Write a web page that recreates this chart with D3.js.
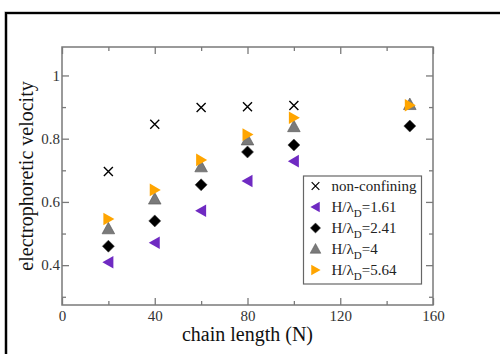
<!DOCTYPE html>
<html>
<head>
<meta charset="utf-8">
<script src="https://cdn.jsdelivr.net/npm/d3@7"></script>
<style>
  body { margin: 0; background: #fff; }
  svg { display: block; }
</style>
</head>
<body>
<div id="chart"></div>
<script>
// chain lengths and velocities
var chainN = [20, 40, 60, 80, 100, 150];
var nonConfining = [0.696, 0.846, 0.899, 0.901, 0.905];
var h161 = [0.409, 0.471, 0.572, 0.666, 0.729];
var h241 = [0.460, 0.540, 0.654, 0.758, 0.780, 0.840];
var h4 = [0.515, 0.609, 0.711, 0.796, 0.838, 0.908];
var h564 = [0.546, 0.638, 0.733, 0.813, 0.866, 0.906];
var xTicks = [0, 40, 80, 120, 160];
var xMinor = [20, 60, 100, 140];
var yTicks = [0.4, 0.6, 0.8, 1];
var yMinor = [0.3, 0.5, 0.7, 0.9];

var series = [
  { name: 'non-confining', sub: null, values: nonConfining, shape: 'x', color: '#000' },
  { name: 'H/λ', sub: 'D', tail: '=1.61', values: h161, shape: 'left', color: '#6f2ac2' },
  { name: 'H/λ', sub: 'D', tail: '=2.41', values: h241, shape: 'diamond', color: '#000' },
  { name: 'H/λ', sub: 'D', tail: '=4', values: h4, shape: 'up', color: '#7a7a7a' },
  { name: 'H/λ', sub: 'D', tail: '=5.64', values: h564, shape: 'right', color: '#ffa500' }
];

var FONT = '"Liberation Serif", "Times New Roman", Times, serif';
var W = 500, H = 354;
var margin = { top: 47, right: 67, bottom: 49, left: 62 };
var width = W - margin.left - margin.right,
    height = H - margin.top - margin.bottom;

var svg = d3.select('#chart').append('svg')
  .attr('width', W).attr('height', H)
  .style('font-family', FONT);

// outer frame (runs off the right and bottom of the picture)
svg.append('path')
  .attr('d', 'M6,' + H + 'V13H' + W)
  .attr('fill', 'none').attr('stroke', '#999').attr('stroke-width', 3.2);
svg.append('path')
  .attr('d', 'M6,' + H + 'V13H' + W)
  .attr('fill', 'none').attr('stroke', '#000').attr('stroke-width', 2);

var g = svg.append('g')
  .attr('transform', 'translate(' + margin.left + ',' + margin.top + ')');

var x = d3.scaleLinear().domain([0, 160]).range([0, width]);
var y = d3.scaleLinear().domain([0.274, 1.09]).range([height, 0]);

var axisColor = '#7a7a7a';

function styleAxis(sel) {
  sel.attr('font-family', FONT);
  sel.select('.domain').remove();
  sel.selectAll('line').attr('stroke', axisColor).attr('stroke-width', 1.3);
  sel.selectAll('text').attr('fill', '#333').style('font-size', '15px').style('font-family', FONT);
}

// ticks point inward on all four sides
g.append('g').attr('transform', 'translate(0,' + height + ')')
  .call(d3.axisBottom(x).tickValues(xTicks).tickSizeInner(-7).tickSizeOuter(0).tickPadding(5))
  .call(styleAxis);
g.append('g').attr('transform', 'translate(0,' + height + ')')
  .call(d3.axisBottom(x).tickValues(xMinor).tickSizeInner(-4).tickSizeOuter(0).tickFormat(''))
  .call(styleAxis);
g.append('g')
  .call(d3.axisTop(x).tickValues(xTicks).tickSizeInner(-7).tickSizeOuter(0).tickFormat(''))
  .call(styleAxis);
g.append('g')
  .call(d3.axisTop(x).tickValues(xMinor).tickSizeInner(-4).tickSizeOuter(0).tickFormat(''))
  .call(styleAxis);

g.append('g')
  .call(d3.axisLeft(y).tickValues(yTicks).tickFormat(d3.format('')).tickSizeInner(-7).tickSizeOuter(0).tickPadding(2))
  .call(styleAxis);
g.append('g')
  .call(d3.axisLeft(y).tickValues(yMinor).tickSizeInner(-4).tickSizeOuter(0).tickFormat(''))
  .call(styleAxis);
g.append('g').attr('transform', 'translate(' + width + ',0)')
  .call(d3.axisRight(y).tickValues(yTicks).tickSizeInner(-7).tickSizeOuter(0).tickFormat(''))
  .call(styleAxis);
g.append('g').attr('transform', 'translate(' + width + ',0)')
  .call(d3.axisRight(y).tickValues(yMinor).tickSizeInner(-4).tickSizeOuter(0).tickFormat(''))
  .call(styleAxis);

g.append('rect')
  .attr('width', width).attr('height', height)
  .attr('fill', 'none').attr('stroke', axisColor).attr('stroke-width', 1.5);

// axis titles
svg.append('text')
  .attr('x', margin.left + width / 2).attr('y', 341)
  .attr('text-anchor', 'middle')
  .style('font-size', '20px').attr('fill', '#111')
  .text('chain length (N)');

svg.append('text')
  .attr('transform', 'translate(32.5,' + (margin.top + height / 2) + ') rotate(-90)')
  .attr('text-anchor', 'middle')
  .style('font-size', '20px').attr('fill', '#111')
  .text('electrophoretic velocity');

// marker drawing
function drawMarker(sel, shape, color) {
  if (shape === 'x') {
    sel.append('path')
      .attr('d', 'M-4.5,-4.5L4.5,4.5M-4.5,4.5L4.5,-4.5')
      .attr('stroke', color).attr('stroke-width', 1.4).attr('fill', 'none');
  } else if (shape === 'diamond') {
    sel.append('path')
      .attr('d', 'M0,-6L6,0L0,6L-6,0Z')
      .attr('fill', color).attr('stroke', '#444').attr('stroke-width', 0.6);
  } else if (shape === 'up') {
    sel.append('path')
      .attr('d', 'M0,-6.5L6.3,5L-6.3,5Z')
      .attr('fill', color).attr('stroke', '#555').attr('stroke-width', 0.6);
  } else if (shape === 'left') {
    sel.append('path')
      .attr('d', 'M-6,0L5,-6.3L5,6.3Z')
      .attr('fill', color);
  } else if (shape === 'right') {
    sel.append('path')
      .attr('d', 'M6,0L-5,-6.3L-5,6.3Z')
      .attr('fill', color);
  }
}

series.forEach(function(s) {
  var pts = s.values.map(function(v, i) { return { n: chainN[i], v: v }; });
  g.selectAll('.m-' + s.shape)
    .data(pts)
    .enter().append('g')
    .attr('class', 'm-' + s.shape)
    .attr('transform', function(d) { return 'translate(' + x(d.n) + ',' + y(d.v) + ')'; })
    .each(function() { drawMarker(d3.select(this), s.shape, s.color); });
});

// legend
var legend = svg.append('g').attr('transform', 'translate(303.5,176)');
legend.append('rect')
  .attr('width', 118).attr('height', 108)
  .attr('fill', '#fff').attr('stroke', '#666').attr('stroke-width', 1.2);

series.forEach(function(s, i) {
  var row = legend.append('g').attr('transform', 'translate(0,' + (10 + i * 21) + ')');
  drawMarker(row.append('g').attr('transform', 'translate(12,0) scale(0.85)'), s.shape, s.color);
  var t = row.append('text').attr('x', 28).attr('y', 5)
    .style('font-size', '15px').attr('fill', '#222');
  t.append('tspan').text(s.name);
  if (s.sub) {
    t.append('tspan').attr('dy', 5).style('font-size', '11px').text(s.sub);
    t.append('tspan').attr('dy', -5).text(s.tail);
  }
});
</script>
</body>
</html>
